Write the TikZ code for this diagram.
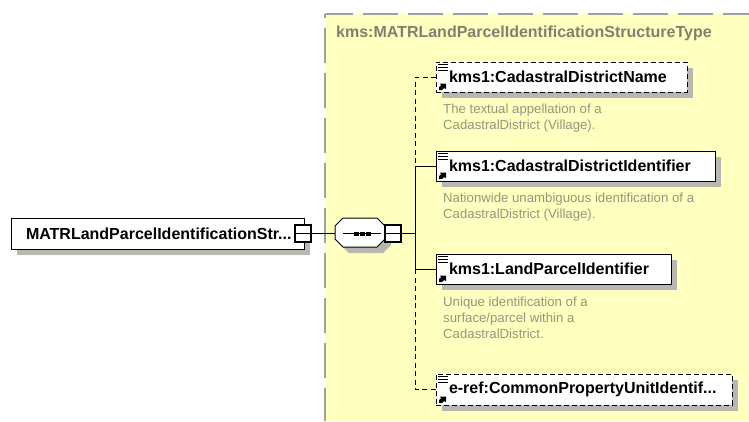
\documentclass[tikz,border=0pt]{standalone}
\usepackage{fontspec}
\setmainfont{Liberation Sans}
\usetikzlibrary{shadows}
\definecolor{typefill}{RGB}{255,255,192}
\definecolor{typeline}{RGB}{160,160,160}
\definecolor{typetext}{RGB}{128,128,112}
\definecolor{doctext}{RGB}{150,150,128}
\definecolor{shadowgray}{RGB}{184,184,176}
\tikzset{
    boxshadow/.style={drop shadow={shadow xshift=6pt,shadow yshift=-6pt,fill=shadowgray,opacity=1}},
    elembox/.style={draw,rectangle,line width=1pt,fill=white,boxshadow,anchor=north west,outer sep=0pt,
        inner xsep=13pt,inner ysep=0pt,minimum height=30pt,text width=#1,align=left,
        font=\bfseries\fontsize{16}{18}\selectfont},
    optbox/.style={elembox=#1,dashed,dash pattern=on 5pt off 3pt},
    minusbox/.style={draw,rectangle,line width=1.2pt,fill=white,minimum width=16pt,minimum height=17pt,inner sep=0pt,outer sep=0pt},
    seqbox/.style={rectangle,minimum width=50pt,minimum height=29pt,inner sep=0pt,outer sep=0pt},
    doc/.style={anchor=north west,inner sep=0pt,align=left,text=doctext,font=\fontsize{13.2}{16}\selectfont},
    conn/.style={line width=0.9pt},
    optconn/.style={conn,dash pattern=on 5pt off 3.5pt}
}
\begin{document}
\begin{tikzpicture}[x=1pt,y=-1pt]
    \useasboundingbox (0,0) rectangle (749,421);

    % type area
    \fill [typefill] (325,14) rectangle (749,421);
    \draw [typeline,line width=1.2pt,dash pattern=on 35pt off 10pt,dash phase=7pt] (325,14) -- (749,14);
    \draw [typeline,line width=1.2pt,dash pattern=on 35pt off 10pt,dash phase=31pt] (325,14) -- (325,421);
    \node [anchor=west,inner sep=0pt,text=typetext,font=\bfseries\fontsize{16}{18}\selectfont] (typename) at (336,33) {kms:MATRLandParcelIdentificationStructureType};

    % connectors go under the boxes
    \coordinate (fork) at (415,233.5);
    \coordinate (idjoin) at (415,166);
    \coordinate (parceljoin) at (415,269);

    % boxes
    \node [elembox=263pt,inner xsep=15pt,minimum height=31pt] (root) at (11,218) {\mbox{MATRLandParcelIdentificationStr...}};
    \node [seqbox] (seq) at (360,232.5) {};
    \fill [shadowgray] ([shift={(6,6)}]seq.north west) ++(8,0) -- ++(34,0) -- ++(8,8) -- ++(0,13) -- ++(-8,8) -- ++(-34,0) -- ++(-8,-8) -- ++(0,-13) -- cycle;
    \draw [line width=1pt,fill=white] (seq.north west) ++(8,0) -- ++(34,0) -- ++(8,8) -- ++(0,13) -- ++(-8,8) -- ++(-34,0) -- ++(-8,-8) -- ++(0,-13) -- cycle;
    \node [optbox=225pt] (namebox) at (436,62) {kms1:CadastralDistrictName};
    \node [elembox=253pt] (idbox) at (436,151) {kms1:CadastralDistrictIdentifier};
    \node [elembox=209pt] (parcelbox) at (436,254) {kms1:LandParcelIdentifier};
    \node [optbox=270pt,minimum height=31pt] (refbox) at (436,374) {e-ref:CommonPropertyUnitIdentif...};

    \node [minusbox] (rootminus) at (303,233.5) {};
    \node [minusbox] (seqminus) at (393,233.5) {};

    \draw [conn] (rootminus.east) -- (rootminus.east -| seq.west);
    \draw [conn] (seqminus.east) -- (fork);
    \draw [optconn] (namebox.west) -| (idjoin);
    \draw [conn] (idbox.west) -| (parceljoin) -- (parcelbox.west);
    \draw [optconn] (parceljoin) |- (refbox.west);

    \draw [line width=0.8pt] (rootminus.west) -- (rootminus.east);
    \draw [line width=0.8pt] (seqminus.west) -- (seqminus.east);

    % the sequence mark
    \draw [line width=1pt] (seq.center) ++(-17,1) -- ++(38,0);
    \foreach \off in {-4,2,8} {
        \fill (seq.center) ++(\off-2,-1) rectangle ++(4.5,4);
    }

    % the marks in each box
    \foreach \boxname in {namebox,idbox,parcelbox,refbox} {
        \fill [white] (\boxname.north west) ++(0.5,0.5) rectangle ++(12,12);
        \foreach \off in {2,5,8} {
            \draw [line width=0.8pt] (\boxname.north west) ++(2,\off) -- ++(10,0);
        }
        \fill (\boxname.south west) ++(3,-2) -- ++(0,-3) -- ++(2,-1.5) -- ++(-1,-2) -- ++(6,0) -- ++(0,5.5) -- ++(-2,-1) -- ++(-2,2) -- cycle;
    }

    % documentation
    \node [doc] (namedoc) at (443,104) {The textual appellation of a\\CadastralDistrict (Village).};
    \node [doc] (iddoc) at (443,193) {Nationwide unambiguous identification of a\\CadastralDistrict (Village).};
    \node [doc] (parceldoc) at (443,296.5) {Unique identification of a\\surface/parcel within a\\CadastralDistrict.};
\end{tikzpicture}
\end{document}
